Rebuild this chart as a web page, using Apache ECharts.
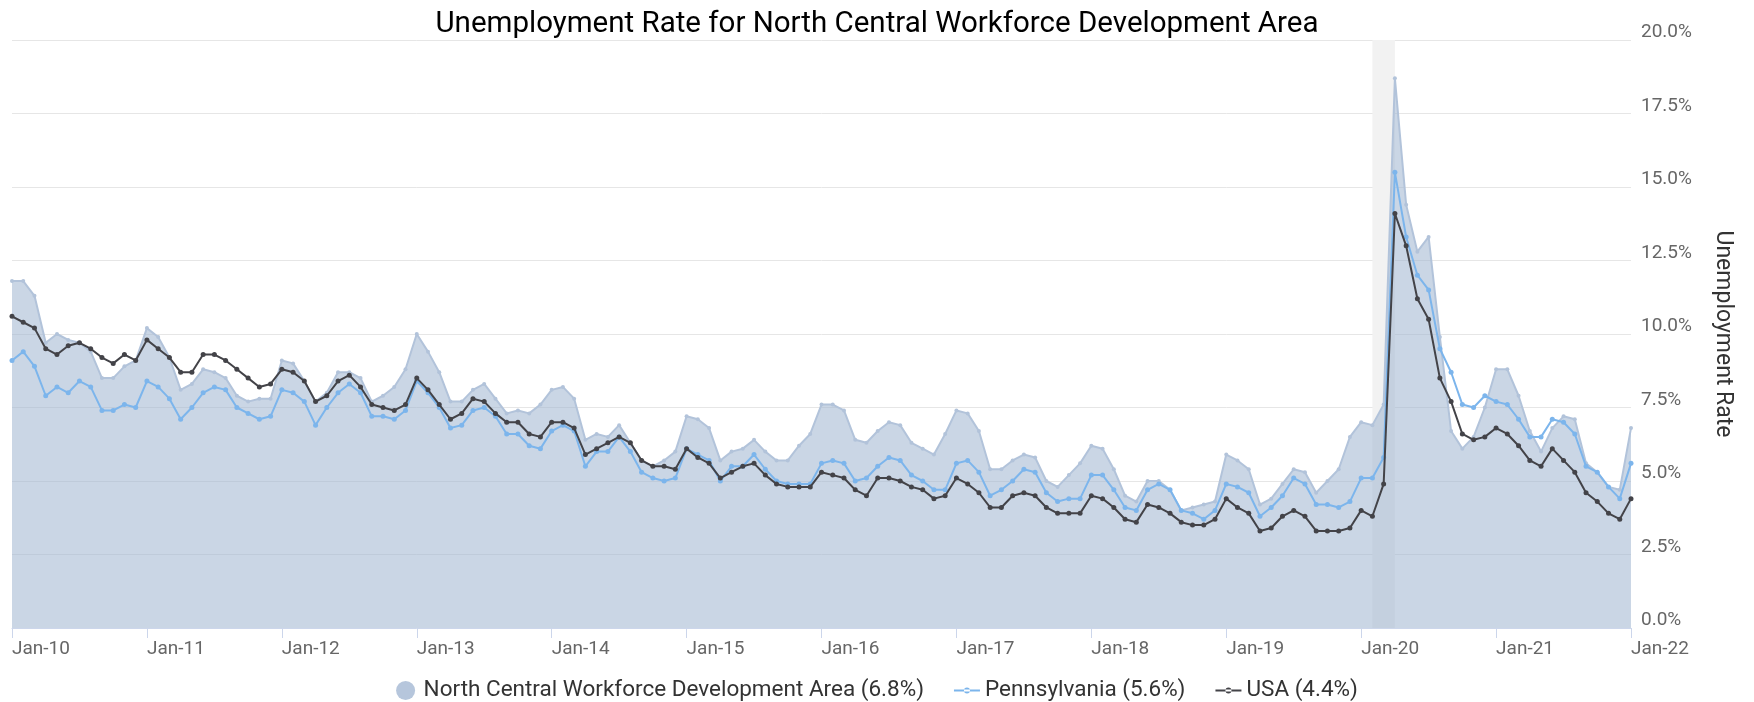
<!DOCTYPE html>
<html>
<head>
<meta charset="utf-8">
<script src="https://cdn.jsdelivr.net/npm/echarts@6/dist/echarts.min.js"></script>
<style>
html,body{margin:0;padding:0;background:#fff;}
#chart{width:1754px;height:702px;}
</style>
</head>
<body>
<div id="chart"></div>
<script>
// ---- data ----
const monthNames = ['Jan','Feb','Mar','Apr','May','Jun','Jul','Aug','Sep','Oct','Nov','Dec'];
const startYear = 2010;
const endYear = 2022; // data through Jan-22

const ncwda = [
  11.8, 11.8, 11.3, 9.7, 10.0, 9.8, 9.7, 9.4, 8.5, 8.5, 8.9, 9.1,
  10.2, 9.9, 9.2, 8.1, 8.3, 8.8, 8.7, 8.5, 7.9, 7.7, 7.8, 7.8,
  9.1, 9.0, 8.4, 7.7, 8.0, 8.7, 8.7, 8.5, 7.7, 7.9, 8.2, 8.8,
  10.0, 9.4, 8.7, 7.7, 7.7, 8.1, 8.3, 7.8, 7.3, 7.4, 7.3, 7.6,
  8.1, 8.2, 7.8, 6.4, 6.6, 6.5, 6.9, 6.3, 5.7, 5.5, 5.7, 6.0,
  7.2, 7.1, 6.8, 5.7, 6.0, 6.1, 6.4, 6.0, 5.7, 5.7, 6.2, 6.6,
  7.6, 7.6, 7.4, 6.4, 6.3, 6.7, 7.0, 6.9, 6.3, 6.1, 5.9, 6.6,
  7.4, 7.3, 6.7, 5.4, 5.4, 5.7, 5.9, 5.8, 5.0, 4.8, 5.2, 5.6,
  6.2, 6.1, 5.4, 4.5, 4.3, 5.0, 5.0, 4.7, 4.0, 4.1, 4.2, 4.3,
  5.9, 5.7, 5.4, 4.2, 4.4, 4.9, 5.4, 5.3, 4.6, 5.0, 5.4, 6.5,
  7.0, 6.9, 7.6, 18.7, 14.4, 12.8, 13.3, 9.9, 6.7, 6.1, 6.5, 7.5,
  8.8, 8.8, 7.9, 6.7, 6.0, 6.8, 7.2, 7.1, 5.6, 5.3, 4.8, 4.7,
  6.8
];

const pennsylvania = [
  9.1, 9.4, 8.9, 7.9, 8.2, 8.0, 8.4, 8.2, 7.4, 7.4, 7.6, 7.5,
  8.4, 8.2, 7.8, 7.1, 7.5, 8.0, 8.2, 8.1, 7.5, 7.3, 7.1, 7.2,
  8.1, 8.0, 7.7, 6.9, 7.5, 8.0, 8.3, 8.0, 7.2, 7.2, 7.1, 7.4,
  8.4, 8.0, 7.5, 6.8, 6.9, 7.4, 7.5, 7.2, 6.6, 6.6, 6.2, 6.1,
  6.7, 6.9, 6.7, 5.5, 6.0, 6.0, 6.5, 6.0, 5.3, 5.1, 5.0, 5.1,
  6.1, 5.9, 5.7, 5.0, 5.5, 5.5, 5.9, 5.4, 5.0, 4.9, 4.9, 4.9,
  5.6, 5.7, 5.6, 5.0, 5.1, 5.5, 5.8, 5.7, 5.2, 5.0, 4.7, 4.7,
  5.6, 5.7, 5.3, 4.5, 4.7, 5.0, 5.4, 5.3, 4.6, 4.3, 4.4, 4.4,
  5.2, 5.2, 4.7, 4.1, 4.0, 4.7, 4.9, 4.7, 4.0, 3.9, 3.7, 4.0,
  4.9, 4.8, 4.6, 3.8, 4.1, 4.5, 5.1, 4.9, 4.2, 4.2, 4.1, 4.3,
  5.1, 5.1, 5.8, 15.5, 13.3, 12.0, 11.5, 9.5, 8.7, 7.6, 7.5, 7.9,
  7.7, 7.6, 7.1, 6.5, 6.5, 7.1, 7.0, 6.6, 5.5, 5.3, 4.8, 4.4,
  5.6
];

const usa = [
  10.6, 10.4, 10.2, 9.5, 9.3, 9.6, 9.7, 9.5, 9.2, 9.0, 9.3, 9.1,
  9.8, 9.5, 9.2, 8.7, 8.7, 9.3, 9.3, 9.1, 8.8, 8.5, 8.2, 8.3,
  8.8, 8.7, 8.4, 7.7, 7.9, 8.4, 8.6, 8.2, 7.6, 7.5, 7.4, 7.6,
  8.5, 8.1, 7.6, 7.1, 7.3, 7.8, 7.7, 7.3, 7.0, 7.0, 6.6, 6.5,
  7.0, 7.0, 6.8, 5.9, 6.1, 6.3, 6.5, 6.3, 5.7, 5.5, 5.5, 5.4,
  6.1, 5.8, 5.6, 5.1, 5.3, 5.5, 5.6, 5.2, 4.9, 4.8, 4.8, 4.8,
  5.3, 5.2, 5.1, 4.7, 4.5, 5.1, 5.1, 5.0, 4.8, 4.7, 4.4, 4.5,
  5.1, 4.9, 4.6, 4.1, 4.1, 4.5, 4.6, 4.5, 4.1, 3.9, 3.9, 3.9,
  4.5, 4.4, 4.1, 3.7, 3.6, 4.2, 4.1, 3.9, 3.6, 3.5, 3.5, 3.7,
  4.4, 4.1, 3.9, 3.3, 3.4, 3.8, 4.0, 3.8, 3.3, 3.3, 3.3, 3.4,
  4.0, 3.8, 4.9, 14.1, 13.0, 11.2, 10.5, 8.5, 7.7, 6.6, 6.4, 6.5,
  6.8, 6.6, 6.2, 5.7, 5.5, 6.1, 5.7, 5.3, 4.6, 4.3, 3.9, 3.7,
  4.4
];

const yTicks = [0, 2.5, 5, 7.5, 10, 12.5, 15, 17.5, 20];
const recessionBand = ['Feb-20', 'Apr-20'];

const titleText = 'Unemployment Rate for North Central Workforce Development Area';
const yAxisName = 'Unemployment Rate';
const seriesNames = ['North Central Workforce Development Area', 'Pennsylvania', 'USA'];

// ---- build categories ----
const categories = [];
for (let y = startYear; y <= endYear; y++) {
  for (let m = 0; m < 12; m++) {
    if (categories.length >= ncwda.length) break;
    categories.push(monthNames[m] + '-' + String(y).slice(2));
  }
}

const lastVal = arr => arr[arr.length - 1].toFixed(1);
const legendNames = [
  seriesNames[0] + ' (' + lastVal(ncwda) + '%)',
  seriesNames[1] + ' (' + lastVal(pennsylvania) + '%)',
  seriesNames[2] + ' (' + lastVal(usa) + '%)'
];

// legend icon for line series: thin line with a small dot
const lineDotIcon = 'path://M0,3.1L26,3.1L26,4.9L0,4.9Z M10,4A3,3 0 1,0 16,4A3,3 0 1,0 10,4Z';

const FONT = 'Roboto, "Noto Sans", sans-serif';
const chart = echarts.init(document.getElementById('chart'), null, {renderer: 'canvas'});

chart.setOption({
  animation: false,
  backgroundColor: '#ffffff',
  title: {
    text: titleText,
    left: 'center',
    top: 10,
    padding: 0,
    textStyle: {fontFamily: FONT, fontSize: 29.5, fontWeight: 'normal', color: '#000000'}
  },
  legend: {
    top: 674,
    left: 'center',
    itemGap: 30,
    itemWidth: 26,
    itemHeight: 19,
    textStyle: {fontFamily: FONT, fontSize: 22.5, color: '#333333'},
    data: [
      {name: legendNames[0], icon: 'circle', itemStyle: {color: '#b6c6dc'}},
      {name: legendNames[1], icon: lineDotIcon, itemStyle: {color: '#7cb5ec'}},
      {name: legendNames[2], icon: lineDotIcon, itemStyle: {color: '#434348'}}
    ]
  },
  grid: {left: 12, right: 123, top: 40, bottom: 74, containLabel: false},
  xAxis: {
    type: 'category',
    data: categories,
    boundaryGap: false,
    axisLine: {show: true, lineStyle: {color: '#ccd6eb', width: 1}},
    axisTick: {show: true, length: 10, interval: i => i % 12 === 0, lineStyle: {color: '#ccd6eb'}},
    axisLabel: {
      interval: i => i % 12 === 0,
      align: 'left',
      margin: 12,
      color: '#666666',
      fontFamily: FONT,
      fontSize: 19
    },
    splitLine: {show: false}
  },
  yAxis: {
    type: 'value',
    position: 'right',
    min: yTicks[0],
    max: yTicks[yTicks.length - 1],
    interval: 2.5,
    name: yAxisName,
    nameLocation: 'middle',
    nameRotate: -90,
    nameGap: 80,
    nameTextStyle: {fontFamily: FONT, fontSize: 23, color: '#333333'},
    axisLine: {show: false},
    axisTick: {show: false},
    axisLabel: {
      formatter: v => v.toFixed(1) + '%',
      color: '#666666',
      fontFamily: FONT,
      fontSize: 19,
      lineHeight: 15,
      margin: 10,
      verticalAlign: 'bottom'
    },
    splitLine: {show: true, lineStyle: {color: '#e6e6e6', width: 1}}
  },
  series: [
    {
      name: 'band',
      type: 'line',
      data: [],
      z: 0,
      silent: true,
      markArea: {
        silent: true,
        itemStyle: {color: '#f2f2f2'},
        data: [[{xAxis: recessionBand[0]}, {xAxis: recessionBand[1]}]]
      }
    },
    {
      name: legendNames[0],
      type: 'line',
      data: ncwda,
      z: 2,
      symbol: 'circle',
      symbolSize: 4,
      showSymbol: true,
      itemStyle: {color: '#b2c3da'},
      lineStyle: {color: '#b2c3da', width: 2},
      areaStyle: {color: 'rgba(159,180,208,0.55)', opacity: 1, origin: 'start'}
    },
    {
      name: legendNames[1],
      type: 'line',
      data: pennsylvania,
      z: 3,
      symbol: 'circle',
      symbolSize: 5,
      showSymbol: true,
      itemStyle: {color: '#7cb5ec'},
      lineStyle: {color: '#7cb5ec', width: 2}
    },
    {
      name: legendNames[2],
      type: 'line',
      data: usa,
      z: 4,
      symbol: 'circle',
      symbolSize: 5,
      showSymbol: true,
      itemStyle: {color: '#434348'},
      lineStyle: {color: '#434348', width: 2}
    }
  ]
});
</script>
</body>
</html>
